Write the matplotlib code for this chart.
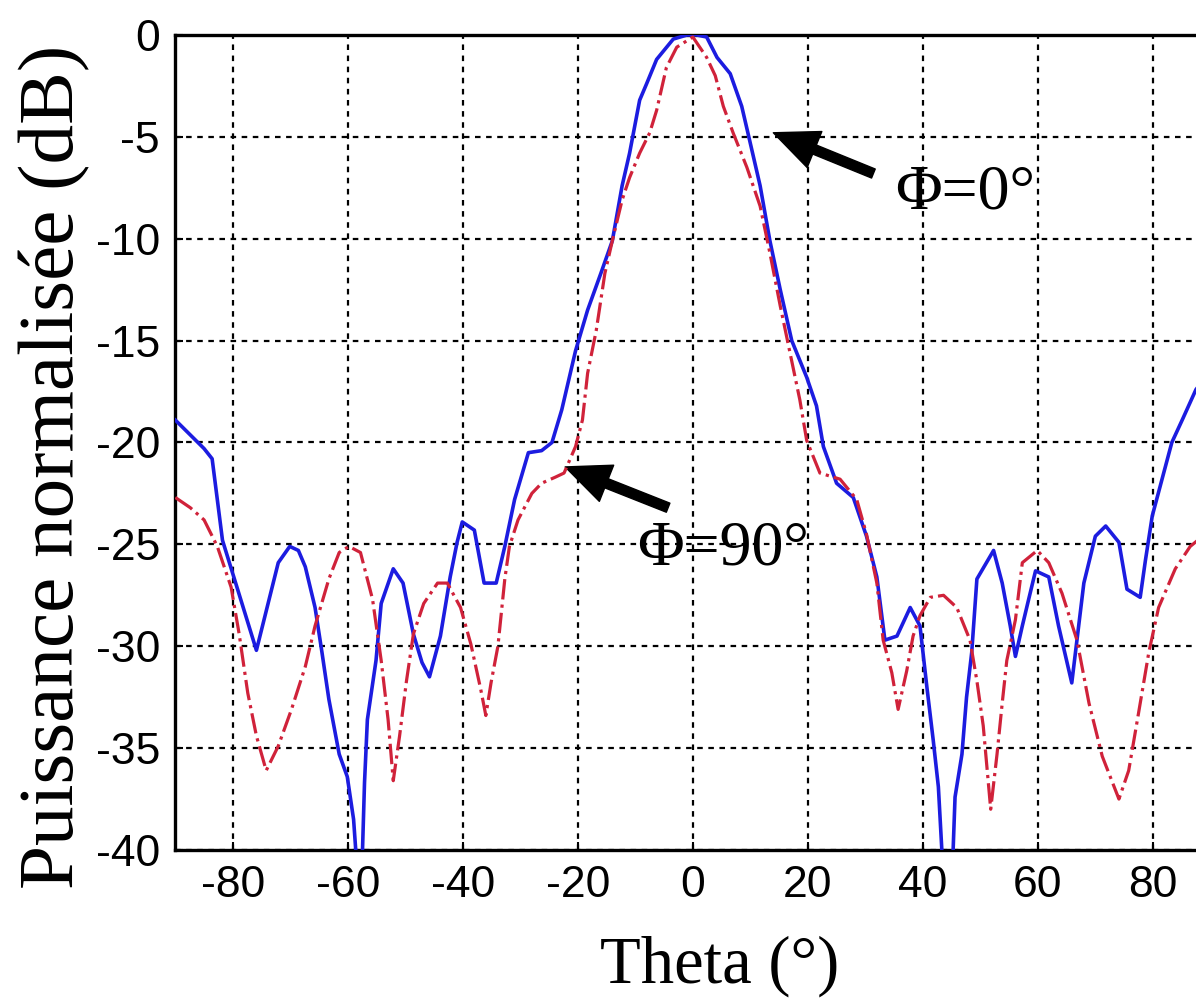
import matplotlib
matplotlib.use("Agg")
import matplotlib.pyplot as plt

# Phi = 0 deg (blue, solid)
theta_0 = [-90, -85.0, -83.6, -81.8, -75.9, -72.1, -70.1, -68.6, -67.4, -65.7,
           -64.5, -63.3, -61.5, -60.1, -59.0, -58.5, -57.5, -57.1, -56.6, -55.1,
           -54.2, -52.1, -50.4, -48.6, -47.1, -45.8, -43.9, -42.2, -41.0, -40.1,
           -38.0, -36.3, -34.2, -32.7, -31.0, -28.6, -26.3, -24.5, -22.8, -20.4,
           -18.3, -16.0, -14.0, -12.3, -11.0, -9.25, -8.05, -6.3, -3.4, -1.0,
           0.7, 2.4, 4.2, 6.5, 8.5, 9.9, 11.7, 13.4, 15.2, 17.2,
           19.8, 21.5, 22.7, 25.0, 27.9, 30.2, 32.0, 33.4, 35.5, 37.8,
           39.5, 40.7, 41.8, 42.7, 43.4, 45.2, 45.6, 46.8, 47.6, 48.5,
           49.4, 52.3, 53.8, 55.2, 56.1, 57.3, 58.4, 59.6, 61.9, 63.6,
           65.9, 67.1, 68.0, 70.0, 71.8, 74.1, 75.5, 77.8, 78.7, 79.9,
           81.6, 83.3, 85.1, 87.5, 90]
db_0 = [-18.9, -20.3, -20.8, -24.8, -30.2, -25.9, -25.1, -25.3, -26.1, -28.1,
        -30.3, -32.6, -35.3, -36.4, -38.5, -40.5, -40.5, -36.7, -33.6, -30.7,
        -27.9, -26.2, -26.9, -29.4, -30.8, -31.5, -29.5, -26.6, -24.9, -23.9,
        -24.3, -26.9, -26.9, -25.1, -22.8, -20.5, -20.4, -20.0, -18.4, -15.5,
        -13.5, -11.7, -10.1, -7.4, -5.8, -3.2, -2.4, -1.2, -0.2, 0.0,
        0.0, -0.1, -1.1, -1.9, -3.5, -5.2, -7.4, -10.1, -12.5, -15.0,
        -16.8, -18.2, -20.2, -22.0, -22.7, -24.6, -26.6, -29.7, -29.5, -28.1,
        -29.0, -32.0, -34.6, -36.9, -40.5, -40.5, -37.4, -35.3, -32.5, -30.3,
        -26.7, -25.3, -26.9, -29.0, -30.5, -29.0, -27.7, -26.3, -26.6, -29.0,
        -31.8, -29.0, -26.9, -24.6, -24.1, -24.9, -27.2, -27.6, -25.8, -23.6,
        -21.8, -20.0, -18.9, -17.4, -16.5]

# Phi = 90 deg (red, dash-dot)
theta_90 = [-90, -87.4, -85.0, -82.7, -80.3, -78.9, -77.4, -75.9, -74.2, -72.1,
            -69.8, -67.4, -65.7, -63.3, -61.5, -59.8, -57.8, -55.7, -54.2, -53.0,
            -52.1, -51.0, -49.8, -48.6, -46.8, -44.4, -42.7, -40.4, -38.6, -36.9,
            -36.0, -35.1, -33.9, -32.7, -31.9, -30.4, -28.0, -26.3, -23.9, -22.4,
            -20.4, -19.2, -18.3, -16.8, -15.3, -14.0, -12.3, -11.0, -9.25, -7.5,
            -6.3, -4.6, -2.8, 0.0, 2.4, 3.9, 5.3, 7.0, 9.4, 11.7,
            13.4, 15.2, 16.9, 18.6, 19.8, 22.1, 25.6, 28.5, 30.2, 32.0,
            33.1, 34.6, 35.7, 37.2, 38.3, 39.5, 41.3, 43.6, 45.9, 48.2,
            49.4, 50.5, 51.8, 52.9, 53.8, 54.6, 56.1, 57.3, 59.9, 61.9,
            64.2, 66.8, 68.9, 71.2, 74.1, 75.8, 77.5, 79.3, 81.0, 83.9,
            86.5, 90]
db_90 = [-22.7, -23.2, -23.8, -25.1, -27.1, -29.4, -32.3, -34.4, -36.1, -34.9,
         -33.1, -31.0, -29.0, -26.7, -25.4, -25.1, -25.4, -27.7, -30.7, -33.6,
         -36.6, -34.4, -31.7, -29.4, -27.9, -26.9, -26.9, -28.1, -29.9, -32.1,
         -33.4, -31.8, -30.0, -26.7, -25.1, -23.8, -22.5, -22.0, -21.7, -21.5,
         -20.2, -18.9, -16.6, -14.5, -11.7, -10.1, -8.1, -7.0, -5.8, -4.8,
         -3.7, -1.6, -0.6, -0.1, -1.1, -2.0, -3.5, -4.8, -6.5, -8.4,
         -10.7, -13.3, -15.6, -17.9, -19.9, -21.5, -21.8, -22.8, -24.5, -26.9,
         -29.7, -31.3, -33.1, -31.2, -29.5, -28.5, -27.6, -27.5, -28.1, -29.7,
         -31.7, -33.9, -38.0, -35.3, -32.8, -30.7, -28.7, -25.9, -25.3, -25.9,
         -27.4, -29.7, -32.8, -35.4, -37.5, -36.1, -33.3, -30.3, -28.1, -26.2,
         -25.1, -24.3]

x_ticks = [-80, -60, -40, -20, 0, 20, 40, 60, 80]
y_ticks = [0, -5, -10, -15, -20, -25, -30, -35, -40]

fig = plt.figure(figsize=(11.96, 10.02), dpi=100)
# the original picture is cropped on the right, so the axes run past the edge
ax = fig.add_axes([0.1466, 0.1517, 0.8654, 0.8134])

ax.plot(theta_0, db_0, '-', color='#1c1ce0', lw=2.6, zorder=3)
ax.plot(theta_90, db_90, '-.', color='#d0223a', lw=2.3, zorder=4)

ax.set_xlim(-90, 90)
ax.set_ylim(-40, 0)
ax.set_xticks(x_ticks)
ax.set_yticks(y_ticks)
ax.set_xticklabels([str(t) for t in x_ticks])
ax.set_yticklabels([str(t) for t in y_ticks])
ax.grid(True, color='black', linestyle=(0, (2.5, 2.5)), linewidth=1.6)
ax.tick_params(direction='in', length=6, width=1.5, labelsize=32, pad=11)
for lab in ax.get_xticklabels() + ax.get_yticklabels():
    lab.set_family(['Liberation Sans', 'DejaVu Sans'])
for s in ax.spines.values():
    s.set_linewidth(2.4)

serif = ['Liberation Serif', 'DejaVu Serif']
ax.annotate('', xy=(14.0, -4.8), xytext=(31.4, -6.8),
            arrowprops=dict(facecolor='black', edgecolor='black', width=7,
                            headwidth=28, headlength=32, shrink=0))
ax.annotate('', xy=(-22.2, -21.2), xytext=(-4.3, -23.2),
            arrowprops=dict(facecolor='black', edgecolor='black', width=7,
                            headwidth=28, headlength=32, shrink=0))
ax.text(35.2, -8.5, '\u03a6=0\u00b0', family=serif, fontsize=46,
        ha='left', va='baseline', zorder=5)
ax.text(-9.7, -26.0, '\u03a6=90\u00b0', family=serif, fontsize=46,
        ha='left', va='baseline', zorder=5)

fig.text(720 / 1196, 1 - 983 / 1002, 'Theta (\u00b0)', family=serif,
         fontsize=48, ha='center', va='baseline')
fig.text(55 / 1196, 1 - 467 / 1002, 'Puissance normalisée (dB)', family=serif,
         fontsize=57, rotation=90, ha='center', va='center')

fig.savefig('out.png', dpi=100)
